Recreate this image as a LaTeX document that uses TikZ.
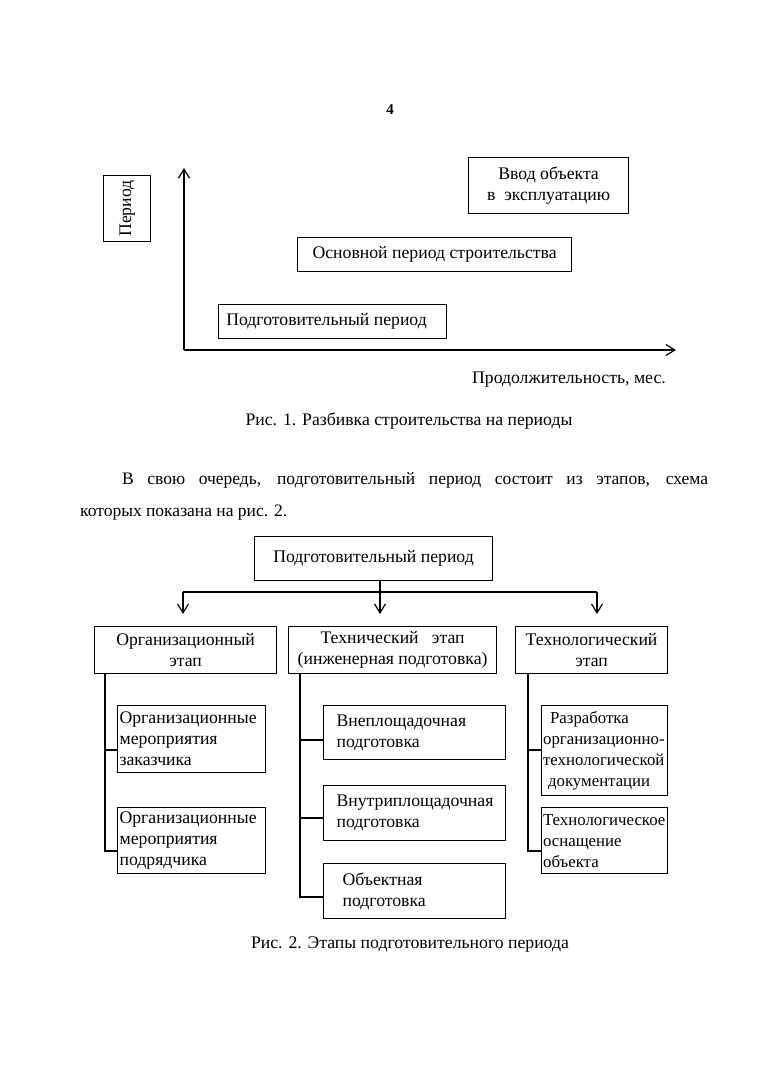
\documentclass[tikz,border=0pt]{standalone}
\usepackage{fontspec}
\setmainfont{Liberation Serif}
\usetikzlibrary{arrows.meta}
\begin{document}
\begin{tikzpicture}[x=1pt,y=-1pt,
  every node/.style={font=\fontsize{17.7}{21}\selectfont},
  ln/.style={line width=1.2pt},
  box/.style={draw, line width=1.2pt, inner sep=0pt, align=center, anchor=north west},
  lbox/.style={draw, line width=1.2pt, inner ysep=0pt, inner xsep=2pt, align=left, anchor=north west},
  arr/.style={ln, -{Straight Barb[length=9pt,width=11pt]}},
  txt/.style={inner sep=0pt}
]
\useasboundingbox[fill=white] (0,0) rectangle (759,1080);

% ---------- Fig. 1 ----------
\node[txt, font=\fontsize{15}{18}\selectfont\bfseries] (pnum) at (390,110) {4};

\node[box, minimum width=47pt, minimum height=66pt] (per) at (103,175) {};
\node[txt, rotate=90] (perl) at (per.center) {Период};

\coordinate (o) at (184,350);
\coordinate (ytip) at (184,168);
\coordinate (xtip) at (676,350);
\draw[arr] (o) -- (ytip);
\draw[arr] (o) -- (xtip);

\node[box, minimum width=160pt, minimum height=56pt] (vvod) at (468,157)
  {Ввод объекта\\в\ \ эксплуатацию};
\node[box, minimum width=274pt, minimum height=34pt] (osn) at (297,237)
  {Основной период строительства};
\node[box, minimum width=228pt, minimum height=34pt] (podg) at (218,304)
  {Подготовительный период\hspace*{12pt}};

\node[txt, anchor=base east] (dur) at (666,383) {Продолжительность, мес.};
\node[txt, anchor=base] (cap1) at (409,425) {Рис. 1. Разбивка строительства на периоды};

% ---------- paragraph ----------
\node[txt, anchor=base west, font=\fontsize{17.5}{21}\selectfont] (par1) at (122,484)
  {\makebox[586pt][s]{В свою очередь, подготовительный период состоит из этапов, схема}};
\node[txt, anchor=base west, font=\fontsize{17.5}{21}\selectfont] (par2) at (80,516)
  {которых показана на рис. 2.};

% ---------- Fig. 2 ----------
\node[box, minimum width=238pt, minimum height=44pt] (top) at (254,536)
  {Подготовительный период};

\coordinate (hub) at (380,592);
\coordinate (h1) at (183,592);
\coordinate (h3) at (597,592);
\coordinate (a1) at (183,614);
\coordinate (a2) at (380,614);
\coordinate (a3) at (597,614);
\draw[ln] (top.south -| hub) -- (hub);
\draw[ln] (h1) -- (h3);
\draw[arr] (h1) -- (a1);
\draw[arr] (hub) -- (a2);
\draw[arr] (h3) -- (a3);

\node[box, minimum width=182pt, minimum height=47pt] (org) at (94,626)
  {Организационный\\этап};
\node[box, minimum width=208pt, minimum height=47pt] (tech) at (288,626)
  {Технический\ \ \ этап\\(инженерная подготовка)};
\node[box, minimum width=152pt, minimum height=47pt] (tlg) at (515,626)
  {Технологический\\этап};

% left column
\node[lbox, text width=144pt, minimum height=67pt] (oz) at (117,705)
  {\mbox{Организационные}\\мероприятия\\заказчика};
\node[lbox, text width=144pt, minimum height=66pt] (op) at (117,807)
  {\mbox{Организационные}\\мероприятия\\подрядчика};
\coordinate (l0) at (105,673);
\coordinate (l1) at (105,750);
\coordinate (l2) at (105,851);
\draw[ln] (l0) -- (l2) -- (l2 -| op.west);
\draw[ln] (l1) -- (l1 -| oz.west);

% middle column
\node[lbox, inner xsep=13pt, text width=156pt, minimum height=54pt] (vn) at (323,705)
  {\mbox{Внеплощадочная}\\подготовка};
\node[lbox, inner xsep=13pt, text width=156pt, minimum height=55pt] (vi) at (323,785)
  {\mbox{Внутриплощадочная}\\подготовка};
\node[lbox, inner xsep=13pt, text width=156pt, minimum height=55pt] (ob) at (323,863)
  {\hspace*{6pt}Объектная\\\hspace*{6pt}подготовка};
\coordinate (m0) at (300,673);
\coordinate (m1) at (300,740);
\coordinate (m2) at (300,818);
\coordinate (m3) at (300,897);
\draw[ln] (m0) -- (m3) -- (m3 -| ob.west);
\draw[ln] (m1) -- (m1 -| vn.west);
\draw[ln] (m2) -- (m2 -| vi.west);

% right column
\node[lbox, font=\fontsize{16.8}{21}\selectfont, inner xsep=1.5pt, text width=123pt, minimum height=90pt] (rz) at (541,705)
  {\hspace*{7pt}Разработка\\\mbox{организационно-}\\\mbox{технологической}\\\hspace*{5pt}документации};
\node[lbox, font=\fontsize{16.8}{21}\selectfont, inner xsep=1.5pt, text width=123pt, minimum height=66pt] (to) at (541,807)
  {\mbox{Технологическое}\\оснащение\\объекта};
\coordinate (r0) at (528,673);
\coordinate (r1) at (528,750);
\coordinate (r2) at (528,851);
\draw[ln] (r0) -- (r2) -- (r2 -| to.west);
\draw[ln] (r1) -- (r1 -| rz.west);

\node[txt, anchor=base] (cap2) at (410,948) {Рис. 2. Этапы подготовительного периода};
\end{tikzpicture}
\end{document}
